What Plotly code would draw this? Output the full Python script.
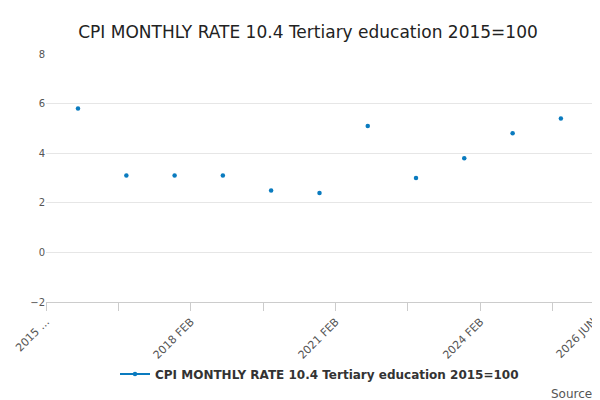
import plotly.graph_objects as go

dates = ["2015-10-01","2016-10-01","2017-10-01","2018-10-01","2019-10-01","2020-10-01",
         "2021-10-01","2022-10-01","2023-10-01","2024-10-01","2025-10-01"]
values = [5.8, 3.1, 3.1, 3.1, 2.5, 2.4, 5.1, 3.0, 3.8, 4.8, 5.4]
tick_dates = ["2015-02-01","2016-08-01","2018-02-01","2019-08-01","2021-02-01",
              "2022-08-01","2024-02-01","2025-08-01","2026-06-01"]
tick_labels = ["2015 ...","","2018 FEB","","2021 FEB","","2024 FEB","","2026 JUN"]
name = "CPI MONTHLY RATE 10.4 Tertiary education 2015=100"

fig = go.Figure()
fig.add_trace(go.Scatter(x=dates, y=values, mode="markers", showlegend=False,
                         marker=dict(color="#0a7bbf", size=4.5)))
fig.add_trace(go.Scatter(x=[None], y=[None], mode="lines+markers", name="<b>"+name+"</b>",
                         line=dict(color="#0a7bbf", width=2),
                         marker=dict(color="#0a7bbf", size=4.5)))
fig.update_layout(
    width=600, height=400, paper_bgcolor="white", plot_bgcolor="white",
    font=dict(family="DejaVu Sans", color="#333"),
    title=dict(text="CPI MONTHLY RATE 10.4 Tertiary education 2015=100", x=0.5, y=0.955,
               xanchor="center", font=dict(size=17, color="#222")),
    margin=dict(l=38, r=15, t=46, b=106),
    showlegend=True,
    legend=dict(orientation="h", x=0.5, xanchor="center", y=-0.29, yanchor="middle",
                font=dict(size=12, color="#333")),
    xaxis=dict(type="date", range=["2015-02-01","2026-06-01"], tickvals=tick_dates,
               ticktext=tick_labels, tickangle=-45, ticks="outside", ticklen=8,
               tickcolor="#ccc", showgrid=False, showline=True, linecolor="#ccc",
               automargin=False, tickfont=dict(size=11, color="#555")),
    yaxis=dict(range=[-2, 8], dtick=2, gridcolor="#e6e6e6", zeroline=False,
               automargin=False, tickfont=dict(size=10, color="#555")),
)
fig.add_annotation(text="Source:", xref="paper", yref="paper", x=1.01, y=-0.37,
                   xanchor="right", yanchor="middle", showarrow=False,
                   font=dict(size=12, color="#555"))
fig.write_html("out.html")
